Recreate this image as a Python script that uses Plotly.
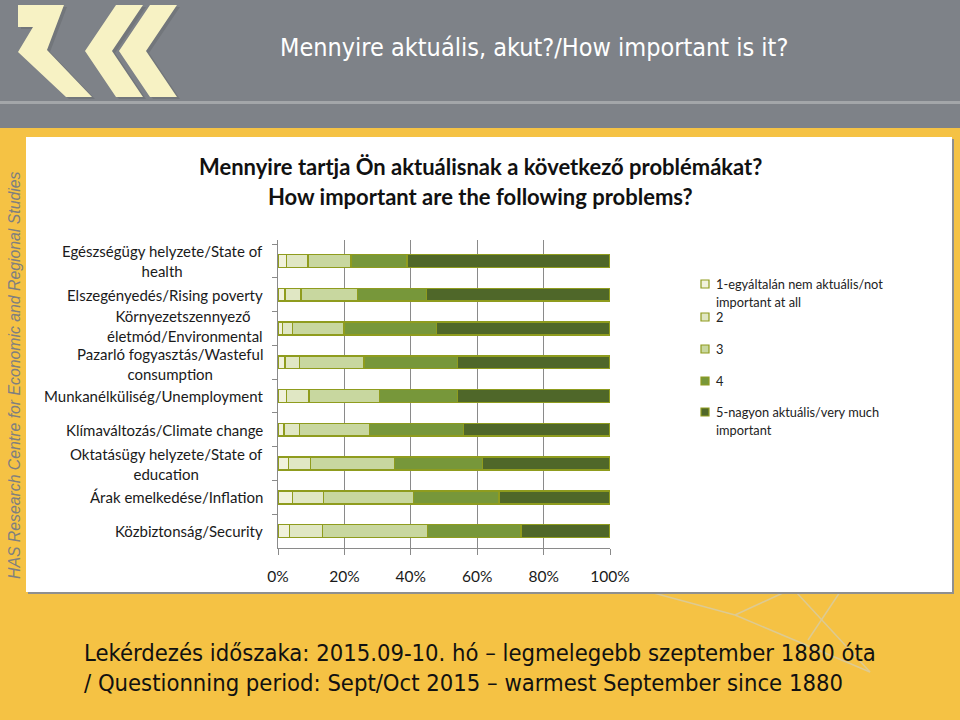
import plotly.graph_objects as go

# ---------------- data ----------------
categories = [
    "Egészségügy helyzete/State of<br>health",
    "Elszegényedés/Rising poverty",
    "Környezetszennyező <br>életmód/Environmental",
    "Pazarló fogyasztás/Wasteful<br>consumption",
    "Munkanélküliség/Unemployment",
    "Klímaváltozás/Climate change",
    "Oktatásügy helyzete/State of<br>education",
    "Árak emelkedése/Inflation",
    "Közbiztonság/Security",
]
series_names = [
    "1-egyáltalán nem aktuális/not important at all",
    "2",
    "3",
    "4",
    "5-nagyon aktuális/very much important",
]
s1 = [2.6, 2.1, 1.3, 2.1, 2.6, 1.8, 3.1, 4.3, 3.4]
s2 = [6.5, 4.8, 3.0, 4.3, 6.8, 4.6, 6.7, 9.4, 10.0]
s3 = [12.9, 17.0, 15.6, 19.5, 21.1, 21.1, 25.3, 27.1, 31.6]
s4 = [16.9, 20.9, 27.8, 28.1, 23.6, 28.3, 26.5, 25.7, 28.2]
s5 = [61.1, 55.2, 52.3, 46.0, 45.9, 44.2, 38.4, 33.5, 26.8]
series_values = [s1, s2, s3, s4, s5]
x_ticks = [0, 20, 40, 60, 80, 100]
x_tick_labels = ["0%", "20%", "40%", "60%", "80%", "100%"]

colors = ["#f1f2dc", "#e0e7c4", "#c8d79f", "#77973a", "#4f6729"]
border = "#8f9c1e"

# ---------------- layout helpers (pixel -> paper) ----------------
W, H = 960, 720
L, R, T, B = 278, 610, 240, 548


def px(x):
    return (x - L) / (R - L)


def py(y):
    return (B - y) / (B - T)


fig = go.Figure()
for name, vals, col in zip(series_names, series_values, colors):
    fig.add_trace(go.Bar(
        y=categories, x=vals, name=name, orientation="h",
        marker=dict(color=col, line=dict(color=border, width=1.5)),
        showlegend=False, hoverinfo="x+y",
    ))

shapes = []


def rect(x0, y0, x1, y1, color, line=None):
    shapes.append(dict(type="rect", xref="paper", yref="paper",
                       x0=px(x0), x1=px(x1), y0=py(y0), y1=py(y1),
                       fillcolor=color, line=dict(width=0) if line is None else line,
                       layer="below"))


def poly(points, color):
    path = "M " + " L ".join(f"{px(a):.5f},{py(b):.5f}" for a, b in points) + " Z"
    shapes.append(dict(type="path", xref="paper", yref="paper", path=path,
                       fillcolor=color, line=dict(width=0), layer="below"))


def seg(x0, y0, x1, y1, color, width=1.5):
    shapes.append(dict(type="line", xref="paper", yref="paper",
                       x0=px(x0), y0=py(y0), x1=px(x1), y1=py(y1),
                       line=dict(color=color, width=width), layer="below"))


# header band
rect(0, 0, W, 128, "#7e8288")
rect(0, 101, W, 104, "#a3a6a9")
# logo (with faint shadow)
shadow = "#72767b"
cream = "#f7f2c4"
logo_shapes = [
    [(18, 5), (64, 5), (47, 50), (92, 97), (66, 97), (18, 52), (33, 27), (18, 27)],
    [(116, 5), (143, 5), (112, 51), (143, 97), (116, 97), (85, 51)],
    [(150, 5), (177, 5), (146, 51), (177, 97), (150, 97), (119, 51)],
]
for pts in logo_shapes:
    poly([(a + 3, b + 2) for a, b in pts], shadow)
for pts in logo_shapes:
    poly(pts, cream)
# decorative faint lines
deco = "#ddca92"
seg(650, 592, 735, 615, deco)
seg(735, 615, 785, 592, deco)
seg(735, 615, 870, 672, deco)
seg(796, 592, 870, 672, deco)
seg(840, 592, 808, 640, deco)
# white chart box with shadow
rect(28, 139, 954, 594, "#8f8f8f")
rect(26, 137, 952, 592, "#ffffff")

annotations = []
NARROW = "DejaVu Sans Condensed, Liberation Sans, sans-serif"


def text(x, y, s, size, color="#1a1a1a", family="Lato", xanchor="left", **kw):
    annotations.append(dict(xref="paper", yref="paper", x=px(x), y=py(y), text=s,
                            showarrow=False, xanchor=xanchor, yanchor="middle",
                            font=dict(size=size, color=color, family=family), **kw))


# header title
text(534, 47, "Mennyire aktuális, akut?/How important is it?", 25, color="#ffffff",
     family=NARROW, xanchor="center")
# vertical side text
text(14, 375, "<i>HAS Research Centre for Economic and Regional Studies</i>", 15.8,
     color="#7f7f7f", family="Liberation Sans", xanchor="center", textangle=-90)
# chart title
text(480, 166, "<b>Mennyire tartja Ön aktuálisnak a következő problémákat?</b>", 22,
     color="#111111", xanchor="center")
text(480, 196, "<b>How important are the following problems?</b>", 22,
     color="#111111", xanchor="center")
# bottom notes
text(82, 653, "Lekérdezés időszaka: 2015.09-10. hó – legmelegebb szeptember 1880 óta", 23.6,
     color="#111111", family=NARROW)
text(82, 683, "/ Questionning period: Sept/Oct 2015 – warmest September since 1880", 23.6,
     color="#111111", family=NARROW)

# category labels (wrapped, centred lines, right edge at 265 px)
label_shift = {2: 2.5, 3: -2}
for i, c in enumerate(categories):
    annotations.append(dict(xref="paper", yref="y", x=px(265), y=c, text=c,
                            showarrow=False, xanchor="right", yanchor="middle", align="center",
                            yshift=label_shift.get(i, 0),
                            font=dict(size=15, color="#1a1a1a", family="Lato")))

# manual legend
legend_rows = [
    (284, ["1-egyáltalán nem aktuális/not", "important at all"]),
    (317, ["2"]),
    (349, ["3"]),
    (381, ["4"]),
    (412, ["5-nagyon aktuális/very much", "important"]),
]
for (yc, lines), col in zip(legend_rows, colors):
    shapes.append(dict(type="rect", xref="paper", yref="paper",
                       x0=px(701), x1=px(709), y0=py(yc - 4), y1=py(yc + 4),
                       fillcolor=col, line=dict(color=border, width=1.2), layer="above"))
    for i, ln in enumerate(lines):
        text(714, yc + i * 18, ln, 12.8, color="#222222")

fig.update_layout(
    width=W, height=H,
    margin=dict(l=L, r=W - R, t=T, b=H - B, pad=0),
    paper_bgcolor="#f5c244",
    plot_bgcolor="#eff1e6",
    barmode="stack",
    bargap=0.62,
    shapes=shapes,
    annotations=annotations,
    showlegend=False,
    xaxis=dict(range=[0, 100], tickvals=x_ticks, ticktext=x_tick_labels,
               showgrid=True, gridcolor="#8a8a8a", gridwidth=1,
               showline=True, linecolor="#8a8a8a", linewidth=1,
               ticks="outside", ticklen=6, tickcolor="#8a8a8a",
               ticklabelstandoff=8,
               tickfont=dict(size=15.5, color="#1a1a1a", family="Lato"),
               zeroline=False, fixedrange=True),
    yaxis=dict(type="category", autorange="reversed", showticklabels=False,
               showline=True, linecolor="#8a8a8a", linewidth=1,
               ticks="outside", ticklen=5, tickcolor="#8a8a8a", tickson="boundaries",
               showgrid=False, fixedrange=True),
)

fig.write_html("out.html", config={"displayModeBar": False},
               post_script="document.body.style.margin='0';document.body.style.overflow='hidden';")
